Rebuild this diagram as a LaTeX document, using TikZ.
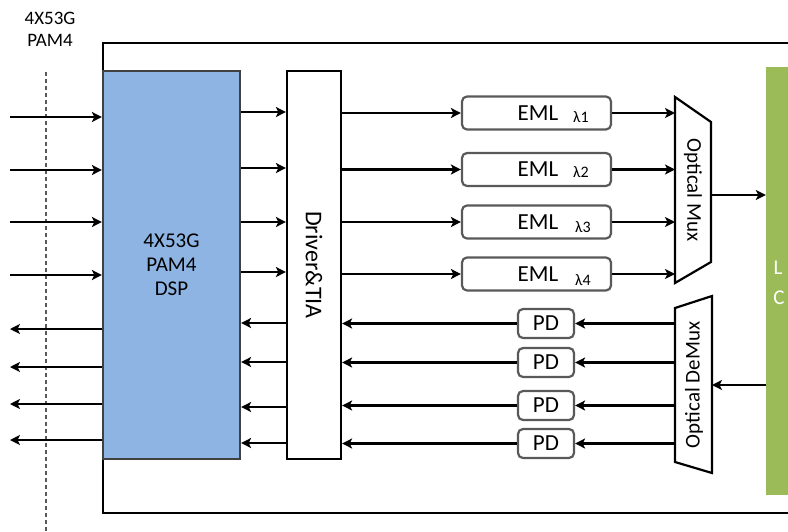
\documentclass[tikz,border=0pt]{standalone}
\usepackage{fontspec}
\setmainfont{Carlito}
\usetikzlibrary{arrows.meta}
\definecolor{dspblue}{HTML}{8EB4E3}
\definecolor{lcgreen}{HTML}{9BBB59}
\definecolor{boxgray}{HTML}{595959}
\tikzset{
  arr/.style={line width=2.2pt,-{Stealth[length=10pt,width=10pt,inset=2.5pt]}},
  blk/.style={draw=black,line width=2.2pt,inner sep=0pt},
  emlbox/.style={draw=boxgray,line width=2.2pt,rounded corners=5pt,minimum width=149pt,minimum height=33pt,inner sep=0pt},
  pdbox/.style={draw=boxgray,line width=2.2pt,rounded corners=5pt,minimum width=56pt,minimum height=29pt,inner sep=0pt,font=\fontsize{23}{25}\selectfont},
  emltxt/.style={font=\fontsize{23}{25}\selectfont},
  lam/.style={font=\fontsize{16}{18}\selectfont,inner sep=0pt},
}
\begin{document}
\begin{tikzpicture}[x=1pt,y=-1pt]
\useasboundingbox (0,0) rectangle (788,531);
% title
\node[align=center,font=\fontsize{19}{22}\selectfont] (title) at (50,29) {4X53G\\PAM4};
% dashed line
\coordinate (dtop) at (46,72);
\coordinate (dbot) at (46,531);
\draw[gray!70!black,line width=1.1pt,dash pattern=on 4pt off 3pt] (dtop) -- (dbot);
% outer box
\draw[line width=2.2pt] (790,43) -- (103,43) -- (103,513) -- (790,513);
% green bar
\node[fill=lcgreen,minimum width=38pt,minimum height=428pt,inner sep=0pt] (lc) at (785,281) {};
\node[white,font=\fontsize{21}{22}\selectfont,inner sep=0pt] (lcL) at (778,268) {L};
\node[white,font=\fontsize{21}{22}\selectfont,inner sep=0pt] (lcC) at (779,298) {C};
% DSP
\node[fill=dspblue,draw=black!75,line width=2.2pt,minimum width=137pt,minimum height=388pt,inner sep=0pt,align=center,font=\fontsize{21}{24}\selectfont] (dsp) at (171.5,265) {4X53G\\PAM4\\DSP};
% Driver
\node[blk,minimum width=54pt,minimum height=388pt,label={[rotate=-90,font=\fontsize{24}{26}\selectfont]center:Driver\&TIA}] (drv) at (314,265) {};
% EMLs
\node[emlbox] (e1) at (536.5,113) {};
\node[emlbox] (e2) at (536.5,169.5) {};
\node[emlbox] (e3) at (536.5,222) {};
\node[emlbox] (e4) at (536.5,274) {};
\node[emltxt] (t1) at (538,113) {EML};
\node[emltxt] (t2) at (538,169.5) {EML};
\node[emltxt] (t3) at (538,222) {EML};
\node[emltxt] (t4) at (538,274) {EML};
\node[lam] (l1) at (581,117) {λ1};
\node[lam] (l2) at (581,172) {λ2};
\node[lam] (l3) at (583,227) {λ3};
\node[lam] (l4) at (583,280) {λ4};
% Mux
\coordinate (m1) at (675,97);
\coordinate (m2) at (711,122);
\coordinate (m3) at (711,262);
\coordinate (m4) at (675,283);
\draw[line width=2.2pt,fill=white] (m1) -- (m2) -- (m3) -- (m4) -- cycle;
\node[rotate=-90,font=\fontsize{21}{23}\selectfont] (muxt) at (693,190) {Optical Mux};
\coordinate (muxL) at (675,190);
\coordinate (muxR) at (711,195);
% DeMux
\coordinate (d1) at (675,308);
\coordinate (d2) at (712,296);
\coordinate (d3) at (712,473);
\coordinate (d4) at (675,462);
\draw[line width=2.2pt,fill=white] (d1) -- (d2) -- (d3) -- (d4) -- cycle;
\node[rotate=90,font=\fontsize{21}{23}\selectfont] (dmxt) at (694,385) {Optical DeMux};
\coordinate (dmxL) at (675,385);
\coordinate (dmxR) at (712,385);
% PDs
\node[pdbox] (p1) at (546,323.5) {PD};
\node[pdbox] (p2) at (546,362.5) {PD};
\node[pdbox] (p3) at (546,405.5) {PD};
\node[pdbox] (p4) at (546,443.5) {PD};
% input arrows
\foreach \y in {117,170,222,275} {
  \draw[arr] (10,\y) -- (dsp.west |- 0,\y);
}
% output arrows
\foreach \y in {329,367,404,440} {
  \draw[arr] (dsp.west |- 0,\y) -- (10,\y);
}
% DSP -> driver
\foreach \y in {112,168,222,272} {
  \draw[arr] (dsp.east |- 0,\y) -- (drv.west |- 0,\y);
}
% driver -> DSP
\foreach \y in {323,362,407,443} {
  \draw[arr] (drv.west |- 0,\y) -- (dsp.east |- 0,\y);
}
% driver -> EML
\foreach \n in {1,2,3,4} {
  \draw[arr] (drv.east |- e\n.west) -- (e\n.west);
  \draw[arr] (e\n.east) -- (muxL |- e\n.east);
}
% mux -> fiber
\draw[arr] (muxR) -- (lc.west |- muxR);
% fiber -> demux
\draw[arr] (lc.west |- dmxR) -- (dmxR);
% demux -> PD -> driver
\foreach \n in {1,2,3,4} {
  \draw[arr] (dmxL |- p\n.east) -- (p\n.east);
  \draw[arr] (p\n.west) -- (drv.east |- p\n.west);
}
\end{tikzpicture}
\end{document}
